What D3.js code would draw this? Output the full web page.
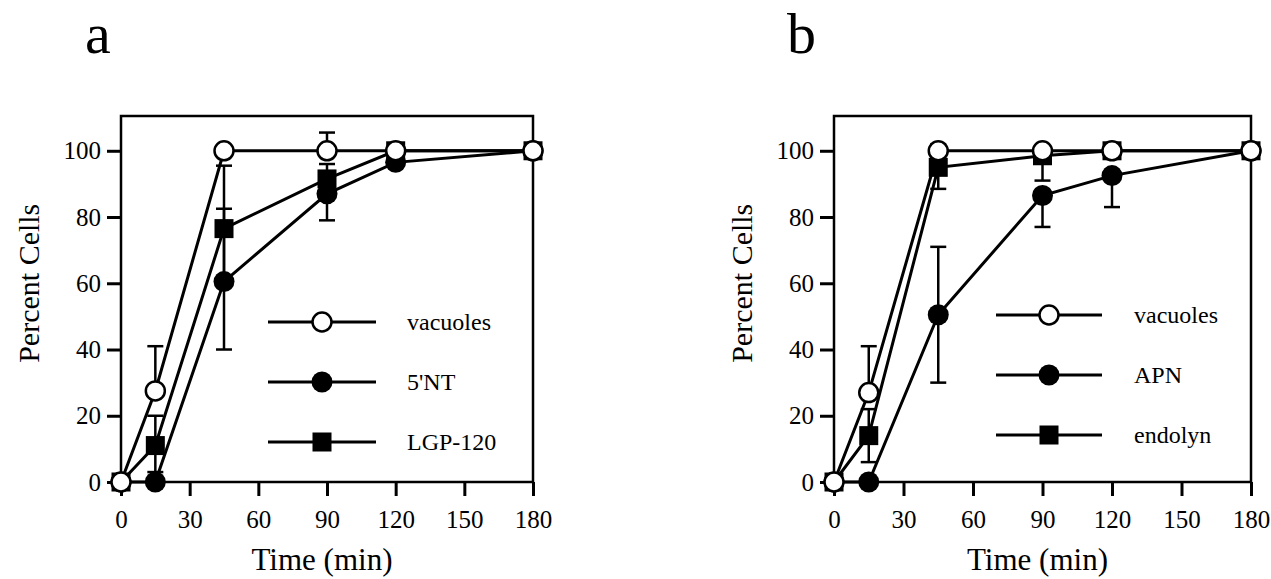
<!DOCTYPE html>
<html>
<head>
<meta charset="utf-8">
<script src="https://cdn.jsdelivr.net/npm/d3@7"></script>
<style>
  body { margin: 0; background: #fff; }
  text { font-family: "Liberation Serif", "Times New Roman", serif; fill: #000; }
</style>
</head>
<body>
<svg width="1271" height="579"></svg>
<script>
/* time points (min) and axis ticks */
var times = [0, 15, 45, 90, 120, 180];
var xTicks = [0, 30, 60, 90, 120, 150, 180];
var yTicks = [0, 20, 40, 60, 80, 100];

/* panel a values (percent cells) */
var aVacuoles = [0, 27.5, 100, 100, 100, 100];
var aNT = [0, 0, 60.5, 87, 96.5, 100];
var aLGP = [0, 11, 76.5, 91.5, 100, 100];
/* error bar ends [low, high], null = none */
var aVacuolesErr = [null, [27.5, 41], null, [100, 105.5], null, null];
var aNTErr = [null, null, [40, 82.5], [79, 87], null, null];
var aLGPErr = [null, [3, 20], [59, 95.5], [88, 96], null, null];

/* panel b values */
var bVacuoles = [0, 27, 100, 100, 100, 100];
var bAPN = [0, 0, 50.5, 86.5, 92.5, 100];
var bEndolyn = [0, 14, 95, 98.5, 100, 100];
var bVacuolesErr = [null, [27, 41], [100, 102], null, null, null];
var bAPNErr = [null, null, [30, 71], [77, 86.5], [83, 92.5], null];
var bEndolynErr = [null, [6, 22], [88.5, 95], [91, 98.5], null, null];

var svg = d3.select("svg");

function drawPanel(p) {
  var x = d3.scaleLinear().domain([0, 180]).range(p.xRange);
  var y = d3.scaleLinear().domain([0, 110.5]).range([482, 116]);
  var g = svg.append("g");

  /* frame */
  g.append("rect")
      .attr("x", x(0)).attr("y", y(110.5))
      .attr("width", x(180) - x(0)).attr("height", y(0) - y(110.5))
      .attr("fill", "none").attr("stroke", "#000").attr("stroke-width", 2.5);

  /* axes */
  var xa = g.append("g")
      .attr("transform", "translate(0," + y(0) + ")")
      .call(d3.axisBottom(x).tickValues(xTicks).tickSize(14).tickPadding(14));
  var ya = g.append("g")
      .attr("transform", "translate(" + x(0) + ",0)")
      .call(d3.axisLeft(y).tickValues(yTicks).tickSize(14).tickPadding(6));
  [xa, ya].forEach(function(a) {
    a.select(".domain").remove();
    a.selectAll("line").attr("stroke", "#000").attr("stroke-width", 3);
    a.selectAll("text").attr("font-size", 25).attr("font-family", "Liberation Serif");
  });

  /* axis titles */
  g.append("text")
      .attr("x", (x(0) + x(180)) / 2 - 5).attr("y", 570)
      .attr("text-anchor", "middle").attr("font-size", 31)
      .text("Time (min)");
  g.append("text")
      .attr("transform", "translate(" + (x(0) - 82) + "," + y(60) + ") rotate(-90)")
      .attr("text-anchor", "middle").attr("font-size", 30)
      .text("Percent Cells");

  /* panel letter */
  g.append("text")
      .attr("x", p.letterX).attr("y", 53)
      .attr("font-size", 58)
      .text(p.letter);

  var line = d3.line()
      .x(function(d) { return x(d.t); })
      .y(function(d) { return y(d.v); });

  p.series.forEach(function(s) {
    s.data = times.map(function(t, i) { return { t: t, v: s.values[i], e: s.err[i] }; });
  });

  /* connecting lines */
  p.series.forEach(function(s) {
    g.append("path")
        .datum(s.data)
        .attr("fill", "none")
        .attr("stroke", "#000")
        .attr("stroke-width", 3)
        .attr("d", line);
  });

  /* error bars */
  p.series.forEach(function(s) {
    var eb = g.selectAll(null)
        .data(s.data.filter(function(d) { return d.e; }))
        .enter().append("g")
        .attr("stroke", "#000").attr("stroke-width", 2.5);
    eb.append("line")
        .attr("x1", function(d) { return x(d.t); })
        .attr("x2", function(d) { return x(d.t); })
        .attr("y1", function(d) { return y(d.e[0]); })
        .attr("y2", function(d) { return y(d.e[1]); });
    eb.each(function(d) {
      var gg = d3.select(this);
      d.e.forEach(function(v) {
        if (v === d.v) return;
        gg.append("line")
            .attr("x1", x(d.t) - 8).attr("x2", x(d.t) + 8)
            .attr("y1", y(v)).attr("y2", y(v));
      });
    });
  });

  function marker(sel, type, cx, cy) {
    if (type === "square") {
      sel.append("rect")
          .attr("x", cx - 9.5).attr("y", cy - 9.5)
          .attr("width", 19).attr("height", 19)
          .attr("fill", "#000");
    } else {
      sel.append("circle")
          .attr("cx", cx).attr("cy", cy)
          .attr("r", type === "open" ? 9.5 : 10.5)
          .attr("fill", type === "open" ? "#fff" : "#000")
          .attr("stroke", "#000").attr("stroke-width", type === "open" ? 2.5 : 0);
    }
  }

  /* markers: filled, squares, then open on top */
  ["filled", "square", "open"].forEach(function(type) {
    p.series.filter(function(s) { return s.type === type; }).forEach(function(s) {
      s.data.forEach(function(d) { marker(g, type, x(d.t), y(d.v)); });
    });
  });

  /* legend */
  p.series.forEach(function(s, i) {
    var ly = p.legend.y + i * 60;
    g.append("line")
        .attr("x1", p.legend.x1).attr("x2", p.legend.x2)
        .attr("y1", ly).attr("y2", ly)
        .attr("stroke", "#000").attr("stroke-width", 3);
    marker(g, s.type, (p.legend.x1 + p.legend.x2) / 2, ly);
    g.append("text")
        .attr("x", p.legend.tx).attr("y", ly)
        .attr("dy", "0.32em").attr("font-size", 24)
        .text(s.name);
  });
}

drawPanel({
  letter: "a", letterX: 85,
  xRange: [121, 533],
  legend: { x1: 268, x2: 376, y: 322, tx: 407 },
  series: [
    { name: "vacuoles", type: "open", values: aVacuoles, err: aVacuolesErr },
    { name: "5'NT", type: "filled", values: aNT, err: aNTErr },
    { name: "LGP-120", type: "square", values: aLGP, err: aLGPErr }
  ]
});

drawPanel({
  letter: "b", letterX: 787,
  xRange: [834, 1251],
  legend: { x1: 996, x2: 1102, y: 315, tx: 1134 },
  series: [
    { name: "vacuoles", type: "open", values: bVacuoles, err: bVacuolesErr },
    { name: "APN", type: "filled", values: bAPN, err: bAPNErr },
    { name: "endolyn", type: "square", values: bEndolyn, err: bEndolynErr }
  ]
});
</script>
</body>
</html>
